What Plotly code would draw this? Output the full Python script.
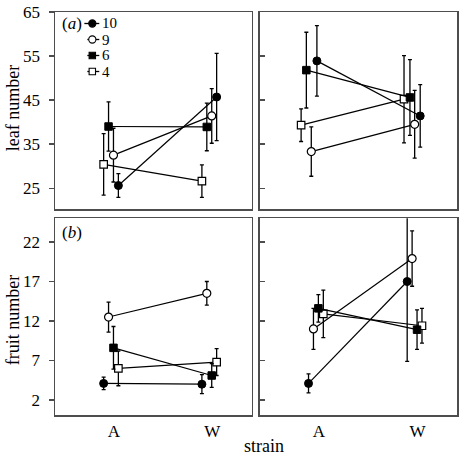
import plotly.graph_objects as go

# ---------------- data ----------------
strains = ["A", "W"]
series = ["10", "9", "6", "4"]

# leaf number, panel (a) left: [A, W] per series
leaf_left_mean = [[25.6, 45.7], [32.5, 41.4], [39.0, 38.9], [30.4, 26.6]]
leaf_left_err = [[2.7, 9.9], [6.1, 6.2], [5.6, 5.4], [7.0, 3.7]]
# leaf number, panel (a) right
leaf_right_mean = [[53.9, 41.4], [33.3, 39.5], [51.8, 45.6], [39.3, 45.2]]
leaf_right_err = [[8.0, 7.1], [5.6, 7.7], [8.6, 8.6], [3.7, 9.9]]
# fruit number, panel (b) left
fruit_left_mean = [[4.1, 4.0], [12.5, 15.5], [8.6, 5.1], [6.0, 6.8]]
fruit_left_err = [[0.8, 1.2], [1.9, 1.5], [2.7, 1.5], [2.2, 1.7]]
# fruit number, panel (b) right
fruit_right_mean = [[4.1, 17.0], [11.0, 19.9], [13.6, 10.9], [12.9, 11.4]]
fruit_right_err = [[1.2, 10.1], [2.6, 3.5], [1.75, 2.5], [3.0, 2.2]]

leaf_ticks = [25, 35, 45, 55, 65]
fruit_ticks = [2, 7, 12, 17, 22]

# ---------------- styling ----------------
FONT = "Liberation Serif"
W_PX, H_PX = 460, 464
ML, MR, MT, MB = 55, 1, 12, 49
PW = W_PX - ML - MR
PH = H_PX - MT - MB

# dodge offsets (x units) per series, for A and W
dodge_tl = [[0.045, 0.045], [-0.005, -0.005], [-0.055, -0.055], [-0.105, -0.105]]
dodge_tr = [[-0.02, 0.027], [-0.077, -0.029], [-0.127, -0.077], [-0.18, -0.137]]
dodge_bot = [[-0.105, -0.105], [-0.055, -0.055], [-0.005, -0.005], [0.045, 0.045]]

marker_styles = [
    dict(symbol="circle", color="black", size=8, line=dict(color="black", width=1)),
    dict(symbol="circle", color="white", size=8, line=dict(color="black", width=1.2)),
    dict(symbol="square", color="black", size=7.5, line=dict(color="black", width=1)),
    dict(symbol="square", color="white", size=7.5, line=dict(color="black", width=1.2)),
]

fig = go.Figure()

panels = [
    ("x", "y", leaf_left_mean, leaf_left_err, dodge_tl),
    ("x2", "y2", leaf_right_mean, leaf_right_err, dodge_tr),
    ("x3", "y3", fruit_left_mean, fruit_left_err, dodge_bot),
    ("x4", "y4", fruit_right_mean, fruit_right_err, dodge_bot),
]

for xa, ya, means, errs, dodge in panels:
    for i in reversed(range(len(series))):
        xs = [j + dodge[i][j] for j in range(len(strains))]
        fig.add_trace(go.Scatter(
            x=xs, y=means[i], xaxis=xa, yaxis=ya,
            mode="lines+markers", name=series[i], showlegend=False,
            line=dict(color="black", width=1.2),
            marker=marker_styles[i],
            error_y=dict(type="data", array=errs[i], color="black",
                         thickness=1.3, width=2),
        ))

# page pixel -> paper coordinates
def px_x(px):
    return (px - ML) / PW

def px_y(py):
    return 1 - (py - MT) / PH

xd_left = [0, px_x(252.5)]
xd_right = [px_x(260.7), 1]
yd_top = [px_y(209.3), 1]
yd_bot = [0, px_y(218.3)]

axis_common = dict(showline=True, linecolor="#4d4d4d", linewidth=1.5, mirror=True,
                   showgrid=False, zeroline=False,
                   tickfont=dict(family=FONT, size=17, color="black"))
xr = [-0.6, 1.4]

def xaxis(domain, anchor, labels):
    d = dict(axis_common)
    d.update(domain=domain, anchor=anchor, range=xr, tickvals=[0, 1],
             ticktext=strains, ticks="", showticklabels=labels,
             ticklabelstandoff=0)
    return d

def yaxis(domain, anchor, rng, tv, left):
    d = dict(axis_common)
    d.update(domain=domain, anchor=anchor, range=rng, tickvals=tv,
             ticks="outside" if left else "inside", ticklen=5,
             tickcolor="#4d4d4d", tickwidth=1.3,
             showticklabels=left, ticklabelstandoff=5)
    return d

fig.update_layout(
    width=W_PX, height=H_PX,
    margin=dict(l=ML, r=MR, t=MT, b=MB),
    paper_bgcolor="white", plot_bgcolor="white",
    showlegend=False, hovermode=False,
    font=dict(family=FONT, color="black"),
    xaxis=xaxis(xd_left, "y", False),
    xaxis2=xaxis(xd_right, "y2", False),
    xaxis3=xaxis(xd_left, "y3", True),
    xaxis4=xaxis(xd_right, "y4", True),
    yaxis=yaxis(yd_top, "x", [20.2, 65], leaf_ticks, True),
    yaxis2=yaxis(yd_top, "x2", [20.2, 65], leaf_ticks, False),
    yaxis3=yaxis(yd_bot, "x3", [0.1, 25], fruit_ticks, True),
    yaxis4=yaxis(yd_bot, "x4", [0.1, 25], fruit_ticks, False),
)

# ---------------- titles & panel labels ----------------
ann = []
ann.append(dict(text="leaf number", x=px_x(13), y=px_y(108), xref="paper", yref="paper",
                textangle=-90, showarrow=False, font=dict(size=18, family=FONT),
                xanchor="center", yanchor="middle"))
ann.append(dict(text="fruit number", x=px_x(13), y=px_y(320), xref="paper", yref="paper",
                textangle=-90, showarrow=False, font=dict(size=18, family=FONT),
                xanchor="center", yanchor="middle"))
ann.append(dict(text="strain", x=px_x(265), y=px_y(446), xref="paper", yref="paper",
                showarrow=False, font=dict(size=18, family=FONT),
                xanchor="center", yanchor="middle"))
ann.append(dict(text="(<i>a</i>)", x=px_x(60), y=px_y(23.5), xref="paper", yref="paper",
                showarrow=False, font=dict(size=17, family=FONT),
                xanchor="left", yanchor="middle"))
ann.append(dict(text="(<i>b</i>)", x=px_x(60), y=px_y(233), xref="paper", yref="paper",
                showarrow=False, font=dict(size=17, family=FONT),
                xanchor="left", yanchor="middle"))

# ---------------- manual legend ----------------
shapes = []
leg_rows = [23.5, 39.5, 55.5, 71.5]
for i, name in enumerate(series):
    yy = px_y(leg_rows[i])
    x0 = 84.5 if i == 0 else 87.5
    shapes.append(dict(type="line", xref="paper", yref="paper",
                       x0=px_x(x0), x1=px_x(99.5), y0=yy, y1=yy,
                       line=dict(color="black", width=1.3)))
    ms = marker_styles[i]
    half = 3.6 if ms["symbol"] == "circle" else 3.2
    stype = "circle" if ms["symbol"] == "circle" else "rect"
    shapes.append(dict(type=stype, xref="paper", yref="paper",
                       xsizemode="pixel", ysizemode="pixel",
                       xanchor=px_x(92.5), yanchor=yy,
                       x0=-half, x1=half, y0=-half, y1=half,
                       fillcolor=ms["color"], line=dict(color="black", width=1.1)))
    ann.append(dict(text=name, x=px_x(100), y=yy, xref="paper", yref="paper",
                    showarrow=False, font=dict(size=15, family=FONT),
                    xanchor="left", yanchor="middle"))

fig.update_layout(annotations=ann, shapes=shapes)

fig.write_html("out.html",
               config={"displayModeBar": False, "staticPlot": True},
               post_script="document.body.style.margin='0';document.body.style.overflow='hidden';")
